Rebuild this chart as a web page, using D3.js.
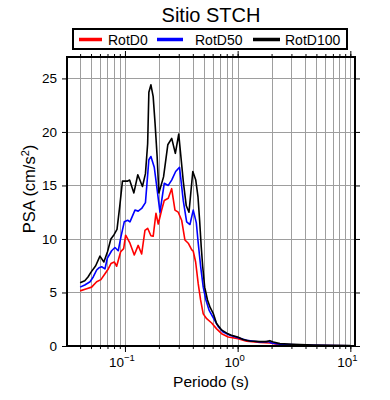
<!DOCTYPE html>
<html><head><meta charset="utf-8">
<script src="https://cdn.jsdelivr.net/npm/d3@7"></script>
<style>body{margin:0;background:#fff}svg{display:block}</style>
</head><body><svg id="c" width="390" height="400"></svg>
<script>
const chartTitle = "Sitio STCH";
const xTitle = "Periodo (s)";
const seriesNames = ["RotD0", "RotD50", "RotD100"];
const seriesColors = ["#ff0000", "#0000ff", "#000000"];

const periodsD0 = [0.04,0.0457,0.0506,0.0561,0.0612,0.0665,0.0711,0.0751,0.0804,0.0844,0.0916,0.0974,0.1014,0.1108,0.121,0.131,0.1407,0.1505,0.159,0.17,0.178,0.1884,0.1974,0.2117,0.2232,0.2423,0.2597,0.2778,0.297,0.3185,0.3406,0.3644,0.3906,0.4036,0.4239,0.447,0.469,0.495,0.531,0.588,0.651,0.721,0.825,1.01,1.2,1.58,1.93,2.37,4.69,10];
const psaD0 = [5.15,5.35,5.5,6.0,6.2,6.75,7.2,7.7,7.85,7.45,8.8,9.1,10.35,9.6,8.5,9.4,8.6,10.8,11.0,10.3,10.25,12.4,11.4,12.7,13.6,13.8,14.7,12.7,12.5,11.75,9.9,9.6,9.0,8.85,7.85,5.8,4.3,3.0,2.55,2.15,1.6,1.15,0.84,0.69,0.44,0.32,0.28,0.13,0.04,0.01];

const periodsD50 = [0.04,0.044,0.049,0.0523,0.0561,0.0588,0.0621,0.0665,0.0697,0.0762,0.0815,0.0872,0.0921,0.0986,0.1057,0.1108,0.1227,0.131,0.1407,0.152,0.163,0.17,0.182,0.193,0.2045,0.2232,0.2423,0.2597,0.2818,0.305,0.329,0.3527,0.3774,0.4036,0.43,0.447,0.47,0.495,0.523,0.56,0.61,0.673,0.745,0.855,1.01,1.2,1.58,1.87,2.0,2.37,4.7,6.6,10];
const psaD50 = [5.5,5.7,6.0,6.45,7.1,7.3,7.4,7.2,8.2,8.9,9.2,8.9,10.2,11.6,11.75,11.6,12.7,12.6,12.85,13.4,17.4,17.7,16.7,14.6,12.5,15.2,15.0,15.5,16.3,16.7,13.6,11.6,11.35,12.7,11.5,9.6,7.4,5.5,4.3,3.3,2.6,1.8,1.3,1.0,0.78,0.53,0.37,0.41,0.28,0.16,0.07,0.04,0.03];

const periodsD100 = [0.04,0.044,0.047,0.05,0.055,0.06,0.065,0.07,0.075,0.08,0.085,0.09,0.095,0.105,0.11,0.12,0.13,0.143,0.152,0.159,0.163,0.17,0.178,0.185,0.193,0.2,0.22,0.24,0.26,0.28,0.3,0.33,0.35,0.37,0.4,0.425,0.445,0.46,0.475,0.49,0.51,0.54,0.57,0.61,0.65,0.72,0.8,0.88,1.0,1.12,1.28,1.58,1.8,1.93,2.07,2.37,3.1,4.7,6.6,10];
const psaD100 = [5.9,6.1,6.45,6.9,7.5,8.4,7.85,8.8,10.0,10.4,10.9,13.1,15.4,15.4,15.5,14.3,16.0,14.9,16.1,18.9,23.7,24.4,23.3,20.8,17.7,14.3,15.8,18.8,19.4,18.0,19.8,15.3,13.1,12.5,16.3,15.5,13.9,11.7,9.3,7.4,5.5,4.3,3.6,3.0,2.1,1.5,1.2,1.0,0.84,0.6,0.47,0.41,0.41,0.5,0.37,0.22,0.16,0.09,0.06,0.04];

const yTicks = [0, 5, 10, 15, 20, 25];
const xMajorExps = [-1, 0, 1];
const xDomain = [0.0306, 11];
const yDomain = [0, 27];

const FONT = "'Liberation Sans', Arial, Helvetica, sans-serif";
const L = 67, R = 355, T = 57, B = 346;
const svg = d3.select("#c");
const x = d3.scaleLog().domain(xDomain).range([L, R]);
const y = d3.scaleLinear().domain(yDomain).range([B, T]);

// minor tick values
const minorVals = [];
for (let e = -2; e <= 1; e++) for (let k = 1; k <= 9; k++) {
  const v = k * Math.pow(10, e);
  if (v >= xDomain[0] && v <= xDomain[1]) minorVals.push(v);
}
const majorVals = xMajorExps.map(e => Math.pow(10, e));

// grid
const grid = svg.append("g").attr("stroke", "#9e9e9e").attr("stroke-width", 1);
grid.selectAll("line.v").data(minorVals).join("line")
  .attr("x1", d => Math.round(x(d)) + 0.5).attr("x2", d => Math.round(x(d)) + 0.5)
  .attr("y1", T).attr("y2", B);
grid.selectAll("line.h").data(yTicks.filter(d => d > 0)).join("line")
  .attr("x1", L).attr("x2", R)
  .attr("y1", d => Math.round(y(d)) + 0.5).attr("y2", d => Math.round(y(d)) + 0.5);

// curves
const series = [
  {p: periodsD0, v: psaD0},
  {p: periodsD50, v: psaD50},
  {p: periodsD100, v: psaD100}
];
const line = d3.line().x(d => x(d[0])).y(d => y(d[1]));
series.forEach((s, i) => {
  svg.append("path").datum(s.p.map((p, j) => [p, s.v[j]]))
    .attr("d", line).attr("fill", "none")
    .attr("stroke", seriesColors[i]).attr("stroke-width", 1.6)
    .attr("stroke-linejoin", "round");
});

// axes with ticks
function tickAxis(axisFn, scale, vals, size, transform) {
  const g = svg.append("g").attr("transform", transform)
    .call(axisFn(scale).tickValues(vals).tickSize(size).tickFormat(""));
  g.select(".domain").remove();
  g.selectAll("line").attr("stroke", "#000").attr("stroke-width", 1);
  return g;
}
tickAxis(d3.axisBottom, x, minorVals, 3, `translate(0,${B})`);
tickAxis(d3.axisBottom, x, majorVals, 6, `translate(0,${B})`);
tickAxis(d3.axisTop, x, minorVals, 3, `translate(0,${T})`);
tickAxis(d3.axisTop, x, majorVals, 6, `translate(0,${T})`);
tickAxis(d3.axisLeft, y, yTicks, 5, `translate(${L},0)`);
tickAxis(d3.axisRight, y, yTicks, 5, `translate(${R},0)`);

// frame
svg.append("rect").attr("x", L).attr("y", T).attr("width", R - L).attr("height", B - T)
  .attr("fill", "none").attr("stroke", "#000").attr("stroke-width", 2);

// x tick labels
majorVals.forEach((v, i) => {
  const t = svg.append("text").attr("x", x(v) - 3).attr("y", 367)
    .attr("text-anchor", "middle").attr("font-family", FONT).attr("font-size", 13.5);
  t.append("tspan").text("10");
  t.append("tspan").attr("dy", -6).attr("font-size", 9.5).text(xMajorExps[i] < 0 ? "\u2212" + Math.abs(xMajorExps[i]) : String(xMajorExps[i]));
});
// y tick labels
svg.append("g").selectAll("text").data(yTicks).join("text")
  .attr("x", 57).attr("y", d => y(d) + 4.7).attr("text-anchor", "end")
  .attr("font-family", FONT).attr("font-size", 13.5).text(d => d);

// axis titles
svg.append("text").attr("x", 211).attr("y", 387).attr("text-anchor", "middle")
  .attr("font-family", FONT).attr("font-size", 15.5).text(xTitle);
const yt = svg.append("text").attr("transform", "translate(35,189) rotate(-90)")
  .attr("text-anchor", "middle").attr("font-family", FONT).attr("font-size", 16.5);
yt.append("tspan").text("PSA (cm/s");
yt.append("tspan").attr("dy", -6).attr("font-size", 11).text("2");
yt.append("tspan").attr("dy", 6).text(")");

// title
svg.append("text").attr("x", 211).attr("y", 22).attr("text-anchor", "middle")
  .attr("font-family", FONT).attr("font-size", 20).text(chartTitle);

// legend
svg.append("rect").attr("x", 73).attr("y", 29).attr("width", 274).attr("height", 20)
  .attr("fill", "#fff").attr("stroke", "#000").attr("stroke-width", 2);
const legX = [{l0: 79, l1: 102, tx: 108}, {l0: 157, l1: 183, tx: 195}, {l0: 253, l1: 280, tx: 285}];
seriesNames.forEach((n, i) => {
  svg.append("line").attr("x1", legX[i].l0).attr("x2", legX[i].l1).attr("y1", 39.5).attr("y2", 39.5)
    .attr("stroke", seriesColors[i]).attr("stroke-width", 3.5);
  svg.append("text").attr("x", legX[i].tx).attr("y", 44.5).attr("font-family", FONT)
    .attr("font-size", 14).text(n);
});
</script></body></html>
